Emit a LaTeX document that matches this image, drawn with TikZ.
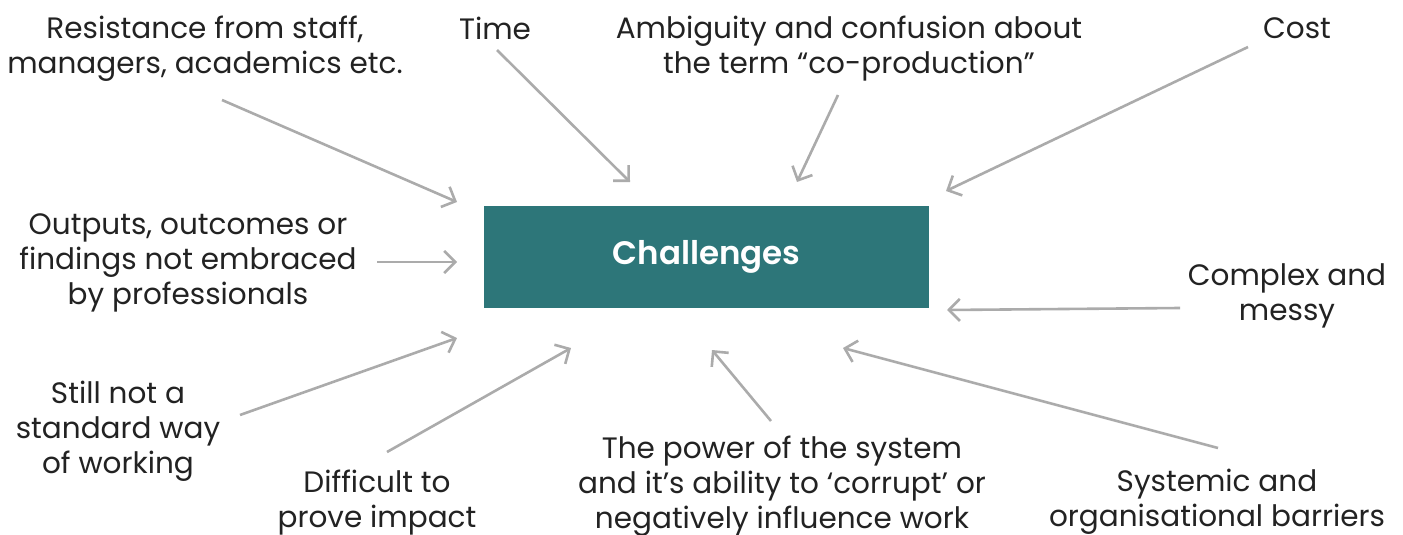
\documentclass[tikz,border=0pt]{standalone}
\usepackage{fontspec}
\setmainfont{Poppins}
\IfFontExistsTF{Poppins SemiBold}{\newfontfamily\headfont{Poppins SemiBold}}{\newfontfamily\headfont{Poppins}[FakeBold=1.5]}
\usepackage{xcolor}
\usetikzlibrary{arrows.meta}
\definecolor{teal}{HTML}{2D7679}
\definecolor{arrowgray}{HTML}{ABABAB}
\definecolor{textgray}{HTML}{222222}

\begin{document}
\begin{tikzpicture}[x=1pt,y=-1pt]
	\tikzstyle{every node}=[inner sep=0pt,align=center,text=textgray,font=\fontsize{29.5}{35}\selectfont]
	\tikzstyle{arr}=[draw=arrowgray,line width=2.6pt,-{Straight Barb[length=11pt,width=22pt,line width=2.6pt]}]
	\useasboundingbox (0,0) rectangle (1403,535);
	% centre box
	\node[fill=teal,minimum width=445pt,minimum height=102pt,text=white,font=\fontsize{32.5}{38}\selectfont\headfont] (chal) at (706.5,257) {Challenges};
	% labels round the box
	\node (resist) at (205,49) {Resistance from staff,\\managers, academics etc.};
	\node (time) at (495,28) {Time};
	\node (ambig) at (849,49) {Ambiguity and confusion about\\the term “co-production”};
	\node (cost) at (1297,28) {Cost};
	\node (outputs) at (188,263) {Outputs, outcomes or\\findings not embraced\\by professionals};
	\node (messy) at (1287,296) {Complex and\\messy};
	\node (still) at (118,431) {Still not a\\standard way\\of working};
	\node (impact) at (377,503) {Difficult to\\prove impact};
	\node (power) at (782,486) {The power of the system\\and it’s ability to ‘corrupt’ or\\negatively influence work};
	\node (barrier) at (1217,502) {Systemic and\\organisational barriers};
	% arrow ends
	\coordinate (s1) at (222,100); \coordinate (e1) at (457,202);
	\coordinate (s2) at (497,50); \coordinate (e2) at (630,182);
	\coordinate (s3) at (838,95); \coordinate (e3) at (797,182);
	\coordinate (s4) at (1248,47); \coordinate (e4) at (946,191);
	\coordinate (s5) at (377,262); \coordinate (e5) at (457,262);
	\coordinate (s6) at (1180,308); \coordinate (e6) at (947,310);
	\coordinate (s7) at (240,415); \coordinate (e7) at (457,338);
	\coordinate (s8) at (387,452); \coordinate (e8) at (571,348);
	\coordinate (s9) at (771,421); \coordinate (e9) at (712,350);
	\coordinate (s10) at (1218,448); \coordinate (e10) at (843,348);
	\foreach \i in {1,...,10}
		\draw[arr] (s\i) -- (e\i);
\end{tikzpicture}
\end{document}
